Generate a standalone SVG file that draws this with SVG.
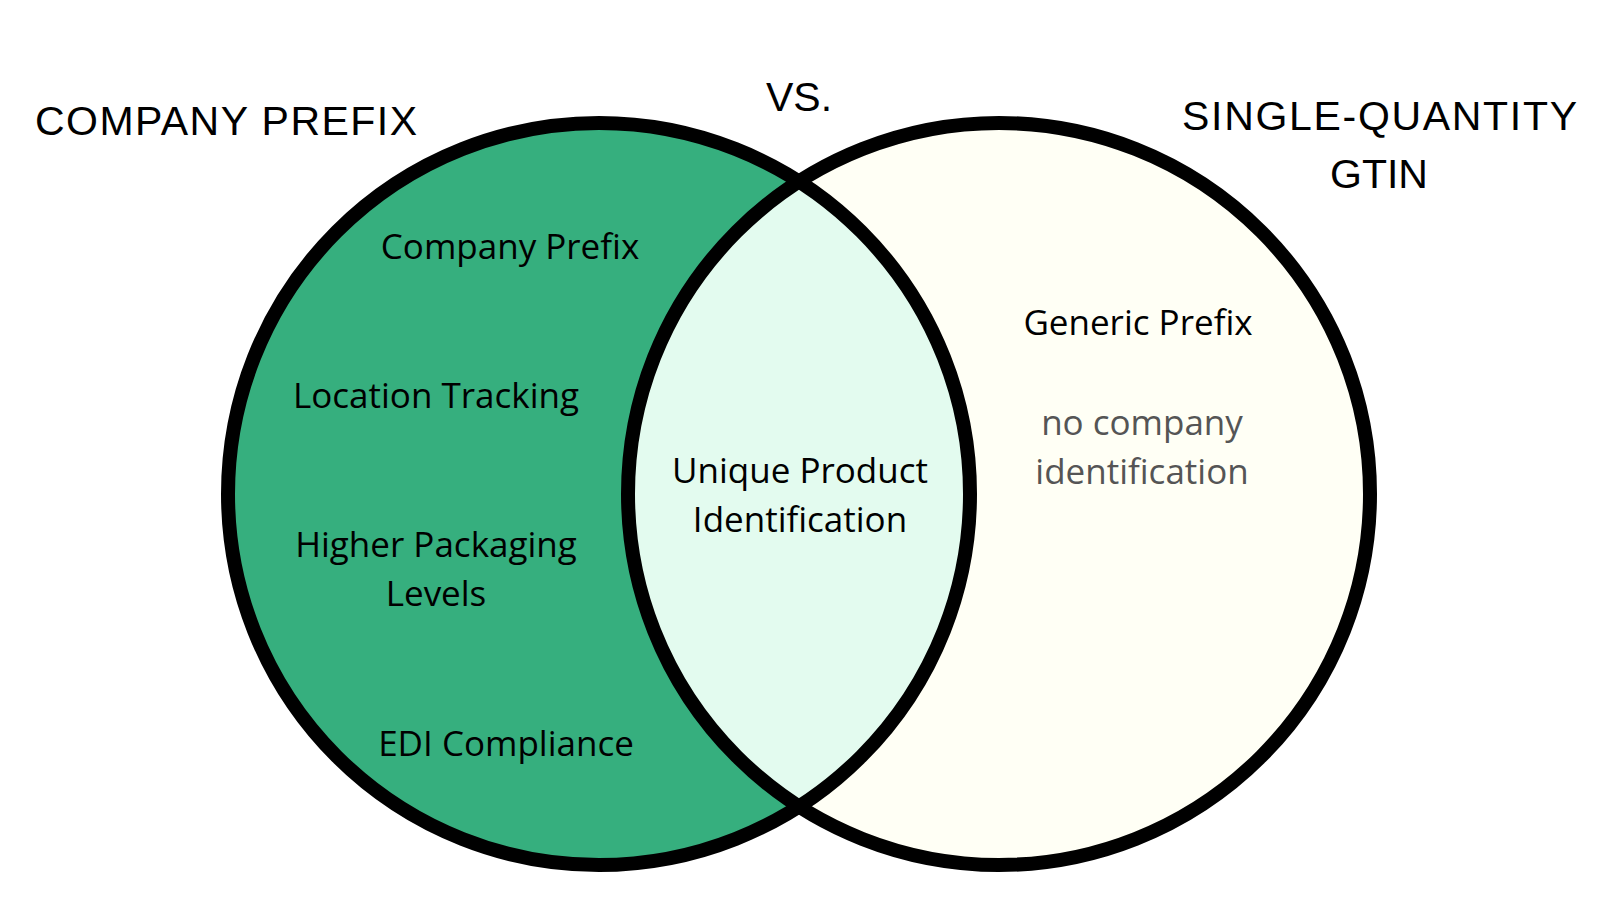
<svg xmlns="http://www.w3.org/2000/svg" width="1600" height="900" viewBox="0 0 1600 900">
<style>
.head{font-family:"Liberation Sans",Arial,sans-serif;font-size:41px;fill:#000;}
.body{font-family:"Open Sans","Noto Sans",sans-serif;font-size:35px;fill:#000;text-anchor:middle;}
.gray{fill:#555555;}
.ring{fill:none;stroke:#000;stroke-width:14;}
</style>
<defs>
<clipPath id="clipL"><circle cx="599" cy="494" r="371"/></clipPath>
</defs>
<rect width="1600" height="900" fill="#ffffff"/>
<g id="circle-left">
<circle cx="599" cy="494" r="371" fill="#36AF7E"/>
</g>
<g id="circle-right">
<circle cx="999" cy="494" r="371" fill="#FFFFF5"/>
</g>
<g id="intersection">
<circle cx="999" cy="494" r="371" fill="#E3FBEF" clip-path="url(#clipL)"/>
</g>
<g id="outlines">
<circle class="ring" cx="599" cy="494" r="371"/>
<circle class="ring" cx="999" cy="494" r="371"/>
</g>
<g id="title-left">
<text class="head" x="35" y="135" textLength="382" lengthAdjust="spacing">COMPANY PREFIX</text>
</g>
<g id="title-vs">
<text class="head" x="799" y="111" text-anchor="middle">VS.</text>
</g>
<g id="title-right">
<text class="head" x="1182" y="130" textLength="395" lengthAdjust="spacing">SINGLE-QUANTITY</text>
<text class="head" x="1379" y="188" text-anchor="middle">GTIN</text>
</g>
<g id="left-items">
<text class="body" x="510" y="259">Company Prefix</text>
<text class="body" x="436" y="408">Location Tracking</text>
<text class="body" x="436" y="557">Higher Packaging</text>
<text class="body" x="436" y="606">Levels</text>
<text class="body" x="506" y="756">EDI Compliance</text>
</g>
<g id="center-items">
<text class="body" x="800" y="483">Unique Product</text>
<text class="body" x="800" y="532">Identification</text>
</g>
<g id="right-items">
<text class="body" x="1138" y="335">Generic Prefix</text>
<text class="body gray" x="1142" y="435">no company</text>
<text class="body gray" x="1142" y="484">identification</text>
</g>
</svg>
